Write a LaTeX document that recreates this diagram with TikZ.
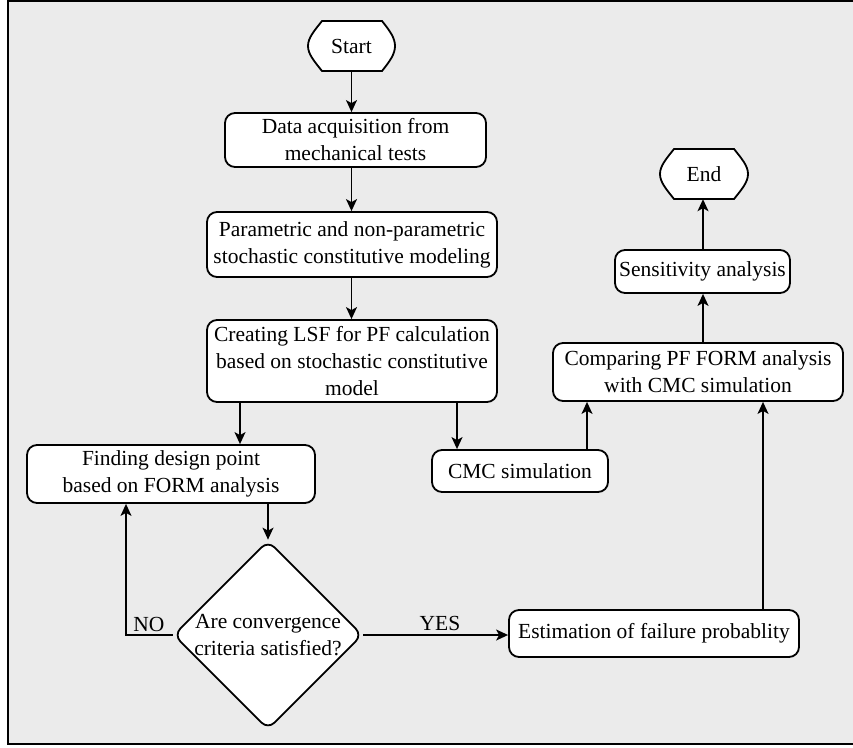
\documentclass[tikz,border=0pt]{standalone}
\usepackage{fontspec}
\setmainfont{Liberation Serif}
\usetikzlibrary{shapes.geometric,arrows.meta}
\begin{document}
\begin{tikzpicture}[x=1pt,y=-1pt,
  box/.style={draw,line width=1.8pt,rounded corners=10pt,fill=white,align=center,inner sep=0pt,
    font=\fontsize{21.5}{27}\selectfont},
  term/.style={inner sep=0pt,align=center,font=\fontsize{21.5}{27}\selectfont},
  dia/.style={draw,diamond,line width=1.8pt,rounded corners=9pt,fill=white,align=center,inner sep=0pt,
    minimum width=184pt,minimum height=182pt,font=\fontsize{21.5}{27}\selectfont},
  arr/.style={line width=1.4pt,-{Stealth[length=12pt,width=11pt,inset=3pt]}},
  lbl/.style={font=\fontsize{21.5}{24}\selectfont,inner sep=1pt}
]
\useasboundingbox (0,0) rectangle (853,747);
\begin{scope}
\clip (0,0) rectangle (853,747);
\draw[line width=2.5pt,fill={rgb,255:red,235;green,235;blue,235}] (8,1) rectangle (860,744);
\end{scope}

% terminals
\draw[line width=1.8pt,fill=white] (322,21) -- (382,21) .. controls (390,31) and (395,38) .. (395,46)
  .. controls (395,54) and (390,61) .. (382,71) -- (322,71) .. controls (314,61) and (308,54) .. (308,46)
  .. controls (308,38) and (314,31) .. (322,21) -- cycle;
\node[term,minimum width=87pt,minimum height=50pt] (start) at (351.5,46) {Start};

\draw[line width=1.8pt,fill=white] (674,149) -- (734,149) .. controls (742,159) and (748,166) .. (748,174)
  .. controls (748,182) and (742,189) .. (734,199) -- (674,199) .. controls (666,189) and (660,182) .. (660,174)
  .. controls (660,166) and (666,159) .. (674,149) -- cycle;
\node[term,minimum width=88pt,minimum height=50pt] (end) at (704,174) {End};

% boxes
\node[box,minimum width=261pt,minimum height=54pt] (data) at (355.5,140) {Data acquisition from\\mechanical tests};
\node[box,minimum width=290pt,minimum height=65pt] (param) at (352,244.5) {Parametric and non-parametric\\stochastic constitutive modeling};
\node[box,minimum width=290pt,minimum height=82pt] (lsf) at (352,361) {Creating LSF for PF calculation\\based on stochastic constitutive\\model};
\node[box,minimum width=288pt,minimum height=58pt] (find) at (171,474) {Finding design point\\based on FORM analysis};
\node[box,minimum width=176pt,minimum height=42pt] (cmc) at (520,471) {CMC simulation};
\node[box,minimum width=290pt,minimum height=58pt] (comp) at (698,372) {Comparing PF FORM analysis\\with CMC simulation};
\node[box,minimum width=175pt,minimum height=43pt] (sens) at (702.5,271.5) {Sensitivity analysis};
\node[box,minimum width=290pt,minimum height=47pt] (est) at (654,633.5) {Estimation of failure probablity};
\node[dia] (conv) at (268,635) {Are convergence\\criteria satisfied?};

% connectors
\draw[arr] (start.south) -- (start.south |- data.north);
\draw[arr] (data.south -| start.south) -- (start.south |- param.north);
\draw[arr] (param.south -| start.south) -- (start.south |- lsf.north);
\coordinate (lx) at (240,0);
\coordinate (rx) at (457,0);
\draw[arr] (lsf.south -| lx) -- (find.north -| lx);
\draw[arr] (lsf.south -| rx) -- (cmc.north -| rx);
\draw[arr] (find.south -| conv.north) -- (conv.north);
\coordinate (nox) at (126,0);
\draw[arr] (conv.west) -- (conv.west -| nox) -- (find.south -| nox);
\node[lbl] at (149,624) {NO};
\draw[arr] (conv.east) -- (est.west |- conv.east);
\node[lbl] at (440,623) {YES};
\coordinate (ex) at (763,0);
\draw[arr] (est.north -| ex) -- (comp.south -| ex);
\coordinate (cx) at (587,0);
\draw[arr] (cmc.north -| cx) -- (comp.south -| cx);
\coordinate (sx) at (703,0);
\draw[arr] (comp.north -| sx) -- (sens.south -| sx);
\draw[arr] (sens.north -| sx) -- (end.south -| sx);
\end{tikzpicture}
\end{document}
